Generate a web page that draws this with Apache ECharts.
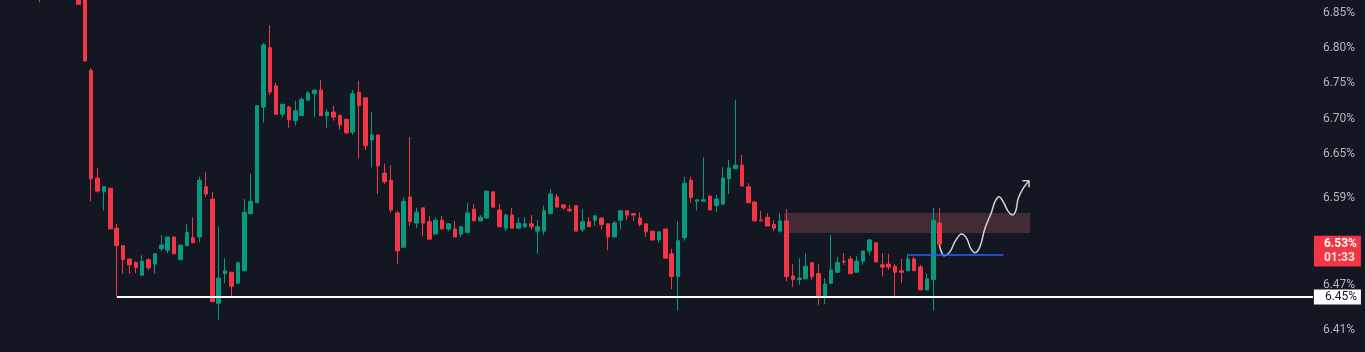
<!DOCTYPE html>
<html>
<head>
<meta charset="utf-8">
<script src="https://cdn.jsdelivr.net/npm/echarts@6/dist/echarts.min.js"></script>
<style>
  html, body { margin: 0; padding: 0; background: #131722; }
  #chart { width: 1365px; height: 352px; }
</style>
</head>
<body>
<div id="chart"></div>
<script>
// bar slots on the time axis (last ~58 are empty space to the right)
const categories = Array.from({ length: 205 }, (_, i) => 'bar ' + i);

// [open, close, low, high] in %, null = bar above the visible range
const candles = [
  null, null, null, null, null,
  [6.905, 6.890, 6.865, 6.910],
  null, null, null, null, null,
  [6.900, 6.862, 6.862, 6.905],
  [6.875, 6.781, 6.781, 6.880],
  [6.768, 6.616, 6.585, 6.771],
  [6.617, 6.599, 6.597, 6.631],
  [6.598, 6.605, 6.572, 6.605],
  [6.603, 6.547, 6.547, 6.603],
  [6.548, 6.524, 6.455, 6.554],
  [6.524, 6.505, 6.486, 6.524],
  [6.506, 6.498, 6.486, 6.506],
  [6.501, 6.494, 6.487, 6.503],
  [6.484, 6.503, 6.484, 6.511],
  [6.505, 6.494, 6.491, 6.507],
  [6.499, 6.513, 6.486, 6.513],
  [6.520, 6.525, 6.517, 6.539],
  [6.518, 6.536, 6.514, 6.536],
  [6.536, 6.513, 6.513, 6.536],
  [6.505, 6.525, 6.505, 6.525],
  [6.524, 6.542, 6.524, 6.554],
  [6.535, 6.528, 6.528, 6.563],
  [6.536, 6.614, 6.529, 6.619],
  [6.605, 6.595, 6.591, 6.625],
  [6.588, 6.448, 6.448, 6.598],
  [6.446, 6.480, 6.424, 6.550],
  [6.486, 6.490, 6.473, 6.507],
  [6.488, 6.469, 6.455, 6.488],
  [6.473, 6.501, 6.472, 6.502],
  [6.490, 6.570, 6.490, 6.588],
  [6.568, 6.585, 6.568, 6.623],
  [6.583, 6.718, 6.583, 6.718],
  [6.716, 6.804, 6.694, 6.807],
  [6.800, 6.737, 6.733, 6.832],
  [6.746, 6.706, 6.706, 6.750],
  [6.706, 6.720, 6.701, 6.720],
  [6.716, 6.698, 6.687, 6.718],
  [6.697, 6.711, 6.690, 6.725],
  [6.704, 6.727, 6.704, 6.730],
  [6.726, 6.736, 6.725, 6.739],
  [6.735, 6.740, 6.702, 6.740],
  [6.740, 6.704, 6.704, 6.754],
  [6.704, 6.709, 6.687, 6.713],
  [6.709, 6.702, 6.697, 6.718],
  [6.704, 6.691, 6.684, 6.706],
  [6.699, 6.680, 6.678, 6.699],
  [6.681, 6.735, 6.677, 6.740],
  [6.737, 6.718, 6.644, 6.753],
  [6.729, 6.662, 6.656, 6.729],
  [6.670, 6.677, 6.632, 6.709],
  [6.677, 6.634, 6.595, 6.677],
  [6.624, 6.612, 6.609, 6.637],
  [6.614, 6.573, 6.569, 6.635],
  [6.569, 6.517, 6.499, 6.572],
  [6.522, 6.585, 6.522, 6.590],
  [6.591, 6.557, 6.551, 6.674],
  [6.555, 6.570, 6.548, 6.576],
  [6.576, 6.555, 6.537, 6.576],
  [6.557, 6.533, 6.533, 6.565],
  [6.540, 6.559, 6.540, 6.563],
  [6.559, 6.547, 6.546, 6.565],
  [6.547, 6.554, 6.544, 6.555],
  [6.547, 6.536, 6.536, 6.558],
  [6.540, 6.550, 6.536, 6.550],
  [6.542, 6.569, 6.542, 6.583],
  [6.574, 6.558, 6.558, 6.581],
  [6.558, 6.563, 6.558, 6.566],
  [6.562, 6.599, 6.561, 6.599],
  [6.598, 6.577, 6.576, 6.598],
  [6.573, 6.550, 6.550, 6.581],
  [6.548, 6.566, 6.544, 6.568],
  [6.566, 6.548, 6.548, 6.576],
  [6.548, 6.555, 6.548, 6.563],
  [6.550, 6.554, 6.548, 6.563],
  [6.554, 6.550, 6.546, 6.566],
  [6.544, 6.550, 6.513, 6.559],
  [6.544, 6.572, 6.539, 6.579],
  [6.568, 6.595, 6.568, 6.602],
  [6.591, 6.577, 6.577, 6.595],
  [6.580, 6.576, 6.573, 6.581],
  [6.574, 6.572, 6.570, 6.580],
  [6.579, 6.544, 6.544, 6.579],
  [6.546, 6.557, 6.543, 6.574],
  [6.557, 6.550, 6.550, 6.563],
  [6.559, 6.565, 6.551, 6.566],
  [6.562, 6.553, 6.546, 6.563],
  [6.554, 6.536, 6.518, 6.554],
  [6.536, 6.555, 6.536, 6.558],
  [6.559, 6.572, 6.546, 6.572],
  [6.572, 6.566, 6.559, 6.572],
  [6.568, 6.566, 6.558, 6.568],
  [6.562, 6.553, 6.550, 6.570],
  [6.554, 6.543, 6.536, 6.554],
  [6.544, 6.532, 6.531, 6.544],
  [6.532, 6.543, 6.528, 6.543],
  [6.547, 6.507, 6.507, 6.547],
  [6.513, 6.482, 6.465, 6.520],
  [6.482, 6.531, 6.436, 6.558],
  [6.535, 6.610, 6.531, 6.619],
  [6.614, 6.590, 6.583, 6.619],
  [6.585, 6.587, 6.572, 6.588],
  [6.585, 6.587, 6.585, 6.646],
  [6.592, 6.573, 6.573, 6.594],
  [6.579, 6.588, 6.570, 6.594],
  [6.581, 6.617, 6.581, 6.632],
  [6.616, 6.631, 6.595, 6.642],
  [6.630, 6.635, 6.630, 6.726],
  [6.635, 6.606, 6.605, 6.649],
  [6.605, 6.583, 6.583, 6.610],
  [6.584, 6.558, 6.558, 6.585],
  [6.559, 6.558, 6.558, 6.572],
  [6.563, 6.551, 6.551, 6.569],
  [6.553, 6.548, 6.544, 6.559],
  [6.544, 6.558, 6.542, 6.569],
  [6.558, 6.482, 6.476, 6.574],
  [6.483, 6.478, 6.468, 6.499],
  [6.478, 6.480, 6.471, 6.507],
  [6.479, 6.496, 6.479, 6.514],
  [6.501, 6.482, 6.478, 6.501],
  [6.486, 6.456, 6.444, 6.499],
  [6.456, 6.472, 6.445, 6.480],
  [6.473, 6.491, 6.473, 6.539],
  [6.488, 6.501, 6.487, 6.509],
  [6.503, 6.502, 6.498, 6.514],
  [6.506, 6.486, 6.486, 6.510],
  [6.488, 6.503, 6.488, 6.510],
  [6.503, 6.517, 6.498, 6.517],
  [6.517, 6.532, 6.511, 6.533],
  [6.528, 6.502, 6.502, 6.529],
  [6.498, 6.495, 6.482, 6.514],
  [6.499, 6.495, 6.491, 6.513],
  [6.496, 6.488, 6.455, 6.499],
  [6.490, 6.488, 6.473, 6.506],
  [6.490, 6.506, 6.490, 6.513],
  [6.506, 6.490, 6.490, 6.509],
  [6.495, 6.464, 6.464, 6.498],
  [6.464, 6.479, 6.464, 6.487],
  [6.478, 6.559, 6.436, 6.576],
  [6.555, 6.526, 6.524, 6.576]
];

// price scale labels (6.53 sits under the last-price tag)
const tickLabels = [6.41, 6.47, 6.59, 6.65, 6.70, 6.75, 6.80, 6.85];

// drawings (x in bar index units, y in %)
const supportLevel = 6.4545;          // white ray
const supportStart = 17.05;
const zoneRange = [6.5415, 6.5689];   // shaded rectangle
const zoneBars = [121.6, 160.16];
const blueLevel = 6.5124;             // blue segment
const blueBars = [141.08, 155.97];
const pathPoints = [
  [145.94, 6.5251], [146.32, 6.5146], [146.68, 6.5105], [147.62, 6.5160],
  [148.40, 6.5296], [149.45, 6.5401], [150.23, 6.5342], [150.86, 6.5205],
  [151.54, 6.5146], [152.32, 6.5228], [153.10, 6.5479], [154.15, 6.5707],
  [154.67, 6.5845], [155.30, 6.5914], [156.08, 6.5823], [156.76, 6.5707],
  [157.45, 6.5662], [157.96, 6.5730], [158.32, 6.5892], [159.11, 6.6030],
  [160.00, 6.6134]
];
const arrowHead = [[158.96, 6.6134], [160.00, 6.6134], [160.00, 6.6043]];
const countdown = '01:33';

const UP = '#089981';
const DOWN = '#F23645';
const NONE = 'rgba(0,0,0,0)';
const L = Math.log;   // price scale is logarithmic

const lastIndex = candles.length - 1;
const lastClose = candles[lastIndex][1];

const chart = echarts.init(document.getElementById('chart'));

const priceTag = (text, color, bg, bold) => ({
  show: true, position: 'end', distance: 1,
  formatter: text,
  color: color, backgroundColor: bg,
  fontWeight: bold ? 'bold' : 'normal',
  fontFamily: 'Roboto', fontSize: 12, lineHeight: 14,
  width: 37, padding: [1.5, 0, 1.5, 10]
});

const option = {
  animation: false,
  backgroundColor: '#131722',
  grid: { left: 5, right: 52.1, top: 0, bottom: 0, outerBoundsMode: 'none' },
  xAxis: [
    { type: 'category', data: categories, boundaryGap: true, show: false },
    { type: 'value', min: -0.5, max: 204.5, show: false }
  ],
  yAxis: {
    type: 'value',
    position: 'right',
    min: L(6.3806),
    max: L(6.8682),
    axisLine: { show: false },
    axisTick: { show: false },
    splitLine: { show: false },
    axisLabel: {
      customValues: tickLabels.map(L),
      formatter: v => Math.exp(v).toFixed(2) + '%',
      color: '#B2B5BE',
      fontSize: 12,
      fontFamily: 'Roboto',
      margin: 10
    }
  },
  series: [
    {
      type: 'candlestick',
      xAxisIndex: 0,
      data: candles.map(c => c ? c.map(L) : ['-', '-', '-', '-']),
      barWidth: 4,
      itemStyle: {
        color: UP, color0: DOWN,
        borderColor: UP, borderColor0: DOWN,
        borderWidth: 1
      },
      z: 2
    },
    {
      type: 'line',
      xAxisIndex: 1,
      data: pathPoints.map(p => [p[0], L(p[1])]),
      smooth: 0.4,
      symbol: 'none',
      lineStyle: { color: '#D1D4DC', width: 1.5 },
      z: 3,
      markArea: {
        silent: true,
        itemStyle: { color: '#412B35' },
        data: [[
          { coord: [zoneBars[0], L(zoneRange[1])] },
          { coord: [zoneBars[1], L(zoneRange[0])] }
        ]]
      },
      markLine: {
        silent: true,
        symbol: ['none', 'none'],
        label: { show: false },
        data: [
          [
            {
              coord: [supportStart, L(supportLevel)],
              lineStyle: { color: '#FFFFFF', width: 2, type: 'solid' },
              label: Object.assign(priceTag(supportLevel.toFixed(2) + '%', '#131722', '#FFFFFF', false),
                { lineHeight: 13, width: 36, padding: [1, 0, 1, 11] })
            },
            { coord: [204.5, L(supportLevel)] }
          ],
          [
            {
              coord: [blueBars[0], L(blueLevel)],
              lineStyle: { color: '#2962FF', width: 1.5, type: 'solid' }
            },
            { coord: [blueBars[1], L(blueLevel)] }
          ],
          [
            {
              coord: [lastIndex, L(lastClose)],
              lineStyle: { color: NONE, width: 1 },
              label: priceTag(lastClose.toFixed(2) + '%', '#FFFFFF', DOWN, true)
            },
            { coord: [204.5, L(lastClose)] }
          ],
          [
            {
              coord: [lastIndex, L(6.5073)],
              lineStyle: { color: NONE, width: 1 },
              label: priceTag(countdown, '#FBE3E5', DOWN, true)
            },
            { coord: [204.5, L(6.5073)] }
          ]
        ]
      }
    },
    {
      type: 'line',
      xAxisIndex: 1,
      data: arrowHead.map(p => [p[0], L(p[1])]),
      symbol: 'none',
      lineStyle: { color: '#D1D4DC', width: 1.5 },
      z: 3
    }
  ]
};

chart.setOption(option);
</script>
</body>
</html>
